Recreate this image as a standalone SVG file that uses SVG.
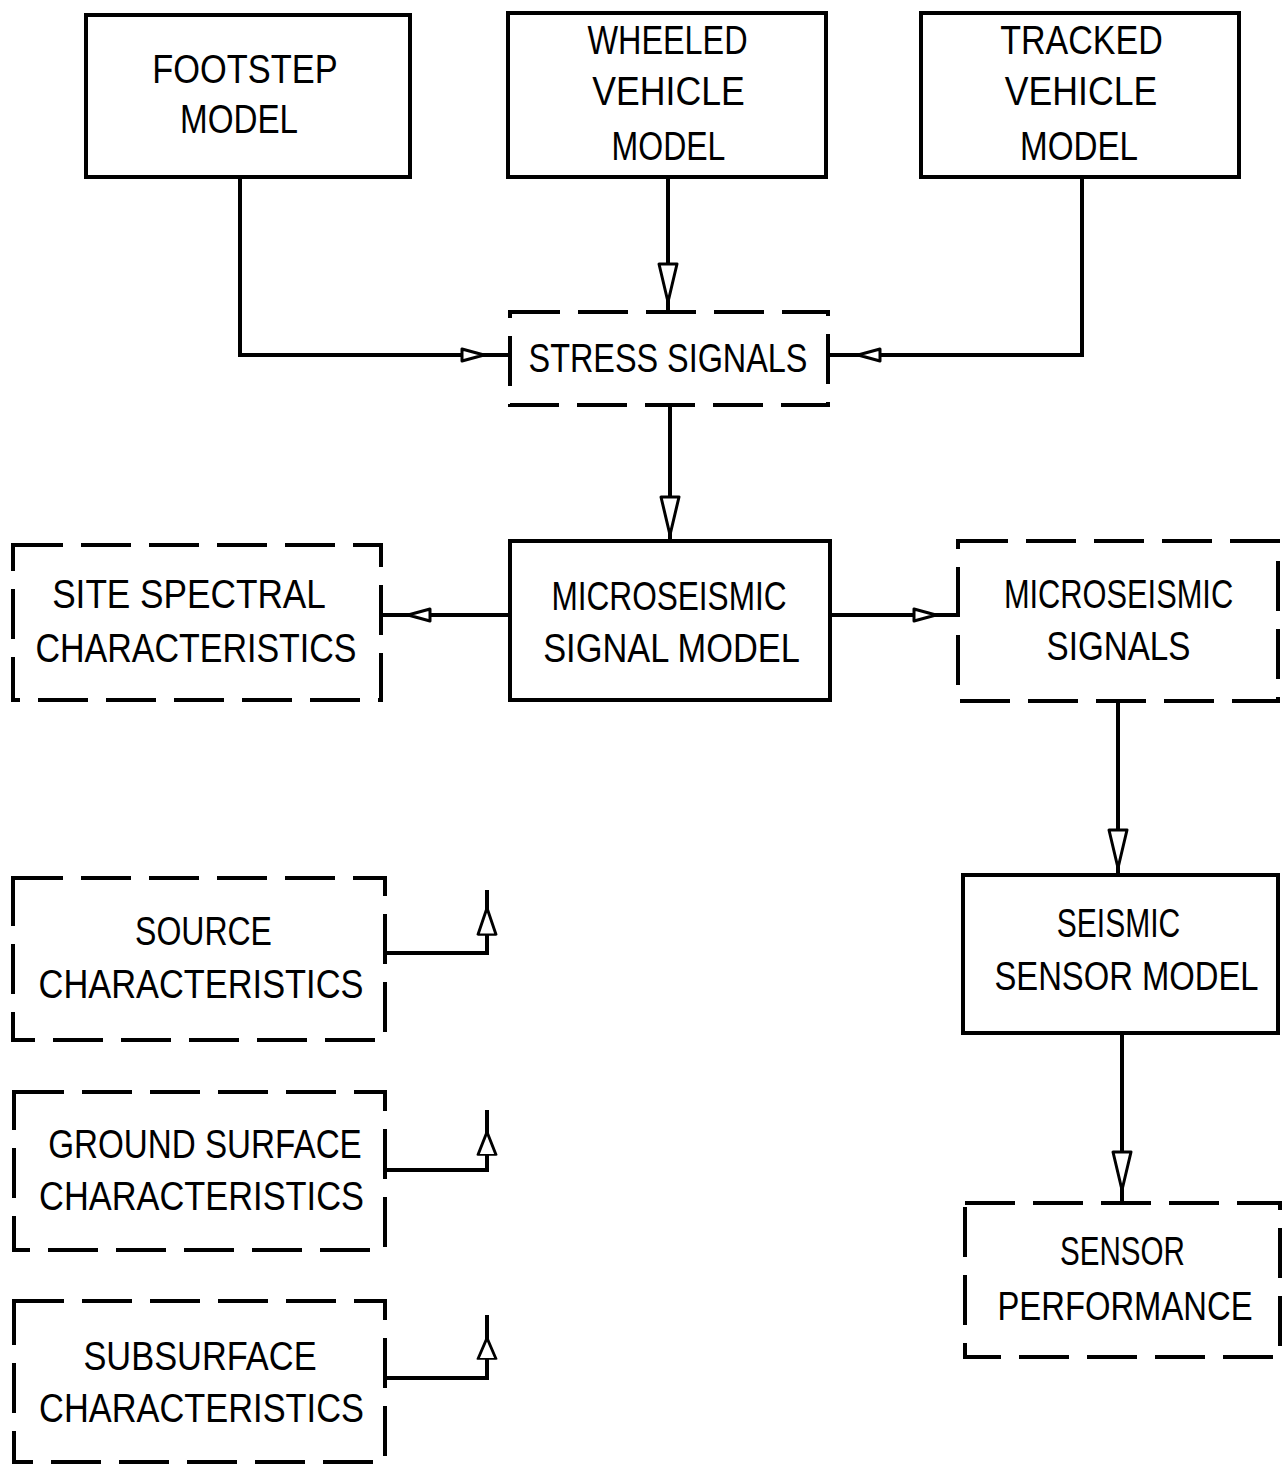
<svg xmlns="http://www.w3.org/2000/svg" width="1284" height="1466" viewBox="0 0 1284 1466">
<style>
.box{fill:none;stroke:#000;stroke-width:4}
.dash{fill:none;stroke:#000;stroke-width:4;stroke-dasharray:50 18}
.con{fill:none;stroke:#000;stroke-width:4}
.ah{fill:#fff;stroke:#000;stroke-width:3;stroke-linejoin:round}
text{font-family:"Liberation Sans",Arial,sans-serif;font-size:40px;fill:#000;text-anchor:middle}
</style>
<defs>
<path id="ah" class="ah" d="M0,0 L-38,-9 L-38,9 Z"/>
<path id="ahs" class="ah" d="M0,0 L-22,-6 L-22,6 Z"/>
</defs>
<rect width="1284" height="1466" fill="#fff"/>
<g id="footstep"><rect class="box" x="86" y="15" width="324" height="162"/>
<text transform="translate(245,83) scale(0.86,1)">FOOTSTEP</text>
<text transform="translate(239,133) scale(0.83,1)">MODEL</text></g>
<g id="wheeled"><rect class="box" x="508" y="13" width="318" height="164"/>
<text transform="translate(667.5,54) scale(0.81,1)">WHEELED</text>
<text transform="translate(668.5,105) scale(0.89,1)">VEHICLE</text>
<text transform="translate(668.5,160) scale(0.8,1)">MODEL</text></g>
<g id="tracked"><rect class="box" x="921" y="13" width="318" height="164"/>
<text transform="translate(1081.5,54) scale(0.85,1)">TRACKED</text>
<text transform="translate(1081,105) scale(0.89,1)">VEHICLE</text>
<text transform="translate(1079,160) scale(0.83,1)">MODEL</text></g>
<g id="stress"><rect class="dash" x="510" y="312" width="318" height="93"/>
<text transform="translate(668,372) scale(0.81,1)">STRESS SIGNALS</text></g>
<g id="msm"><rect class="box" x="510" y="541" width="320" height="159"/>
<text transform="translate(669,610) scale(0.79,1)">MICROSEISMIC</text>
<text transform="translate(671.5,662) scale(0.86,1)">SIGNAL MODEL</text></g>
<g id="site"><rect class="dash" x="13" y="545" width="368" height="155"/>
<text transform="translate(189,608) scale(0.88,1)">SITE SPECTRAL</text>
<text transform="translate(196,662) scale(0.85,1)">CHARACTERISTICS</text></g>
<g id="mss"><rect class="dash" x="958" y="541" width="320" height="160"/>
<text transform="translate(1118.5,608) scale(0.77,1)">MICROSEISMIC</text>
<text transform="translate(1118.5,660) scale(0.83,1)">SIGNALS</text></g>
<g id="ssm"><rect class="box" x="963" y="875" width="315" height="158"/>
<text transform="translate(1118.5,937) scale(0.75,1)">SEISMIC</text>
<text transform="translate(1126.5,990) scale(0.82,1)">SENSOR MODEL</text></g>
<g id="perf"><rect class="dash" x="965" y="1203" width="315" height="154"/>
<text transform="translate(1122.5,1265) scale(0.74,1)">SENSOR</text>
<text transform="translate(1125,1320) scale(0.82,1)">PERFORMANCE</text></g>
<g id="source"><rect class="dash" x="13" y="878" width="372" height="162"/>
<text transform="translate(203.5,945) scale(0.8,1)">SOURCE</text>
<text transform="translate(201,998) scale(0.86,1)">CHARACTERISTICS</text></g>
<g id="ground"><rect class="dash" x="14" y="1092" width="371" height="158"/>
<text transform="translate(205,1158) scale(0.83,1)">GROUND SURFACE</text>
<text transform="translate(201.5,1210) scale(0.86,1)">CHARACTERISTICS</text></g>
<g id="subsurface"><rect class="dash" x="14" y="1301" width="371" height="161"/>
<text transform="translate(200,1370) scale(0.86,1)">SUBSURFACE</text>
<text transform="translate(201.5,1422) scale(0.86,1)">CHARACTERISTICS</text></g>
<g id="connectors">
<path class="con" d="M240,177 V355 H510"/>
<path class="con" d="M668,177 V312"/>
<path class="con" d="M1082,177 V355 H828"/>
<path class="con" d="M670,405 V541"/>
<path class="con" d="M510,615 H381"/>
<path class="con" d="M830,615 H958"/>
<path class="con" d="M1118,701 V875"/>
<path class="con" d="M1122,1033 V1203"/>
<path class="con" d="M385,953 H487 V890"/>
<path class="con" d="M385,1170 H487 V1110"/>
<path class="con" d="M385,1378 H487 V1315"/>
<use href="#ahs" transform="translate(484,355)"/>
<use href="#ahs" transform="translate(858,355) rotate(180)"/>
<use href="#ah" transform="translate(668,302) rotate(90)"/>
<use href="#ah" transform="translate(670,535) rotate(90)"/>
<use href="#ahs" transform="translate(408,615) rotate(180)"/>
<use href="#ahs" transform="translate(936,615)"/>
<use href="#ah" transform="translate(1118,868) rotate(90)"/>
<use href="#ah" transform="translate(1122,1190) rotate(90)"/>
<use href="#ah" transform="translate(487,908) rotate(-90) scale(0.7,1)"/>
<use href="#ah" transform="translate(487,1132) rotate(-90) scale(0.6,1)"/>
<use href="#ah" transform="translate(487,1338) rotate(-90) scale(0.55,1)"/>
</g>
</svg>
